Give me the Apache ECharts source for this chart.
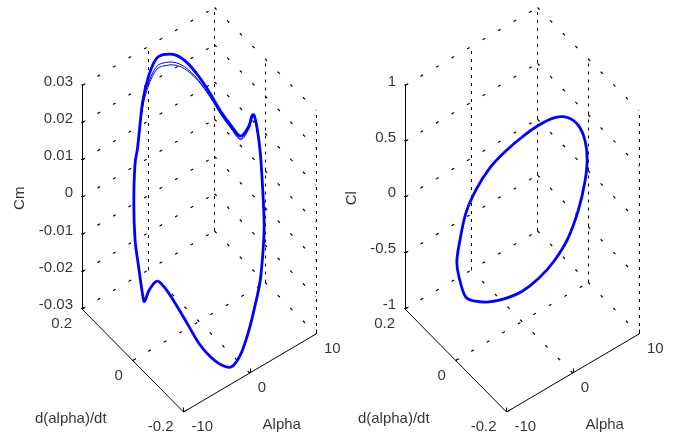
<!DOCTYPE html>
<html>
<head>
<meta charset="utf-8">
<script src="https://cdn.jsdelivr.net/npm/echarts@6/dist/echarts.min.js"></script>
<style>
html, body { margin: 0; padding: 0; background: #fff; }
#chart { width: 676px; height: 438px; }
</style>
</head>
<body>
<div id="chart"></div>
<script>
// Cm loop, one point per phase step (alpha in deg, d(alpha)/dt, Cm)
var alphaCm = [-5.01, -4.08, -3.04, -1.89, -0.70, 0.52, 1.73, 2.88, 3.94, 4.89, 5.68, 6.31, 6.74, 6.97, 6.98, 6.91, 6.78, 6.38, 5.78,
               5.01, 4.08, 3.04, 1.89, 0.70, -0.52, -1.73, -2.88, -3.94, -4.89, -5.68, -6.31, -6.74, -6.97, -6.98, -6.86, -6.78, -6.38, -5.78];
var dadtCm = [0.126, 0.146, 0.162, 0.173, 0.179, 0.180, 0.174, 0.164, 0.149, 0.129, 0.105, 0.078, 0.049, 0.018, -0.014, -0.029, -0.045, -0.074, -0.101,
              -0.126, -0.146, -0.162, -0.173, -0.179, -0.180, -0.174, -0.164, -0.149, -0.129, -0.105, -0.078, -0.049, -0.018, 0.014, 0.035, 0.045, 0.074, 0.101];
var cm = [-0.0022, 0.0061, 0.0090, 0.0189, 0.0245, 0.0277, 0.0279, 0.0271, 0.0250, 0.0218, 0.0181, 0.0143, 0.0121, 0.0112, 0.0161, 0.0201, 0.0203, 0.0144, 0.0054,
          -0.0007, -0.0050, -0.0109, -0.0153, -0.0206, -0.0255, -0.0283, -0.0273, -0.0251, -0.0220, -0.0177, -0.0139, -0.0112, -0.0106, -0.0152, -0.0198, -0.0189, -0.0125, -0.0091];

// other cycles, only where they leave the main one (top of the loop)
var alphaCm2 = [-3.04, -1.89, -0.70, 0.52, 1.73, 2.88, 3.94, 4.89, 5.68, 6.31, 6.74, 6.97, 6.98, 6.91, 6.78, 6.38];
var dadtCm2 = [0.162, 0.173, 0.179, 0.180, 0.174, 0.164, 0.149, 0.129, 0.105, 0.078, 0.049, 0.018, -0.014, -0.029, -0.045, -0.074];
var cm2 = [0.0085, 0.0179, 0.0227, 0.0255, 0.0257, 0.0251, 0.0234, 0.0207, 0.0173, 0.0137, 0.0115, 0.0105, 0.0155, 0.0195, 0.0199, 0.0144];
var cm3 = [0.0085, 0.0174, 0.0220, 0.0247, 0.0249, 0.0244, 0.0229, 0.0204, 0.0171, 0.0135, 0.0113, 0.0103, 0.0153, 0.0194, 0.0198, 0.0144];

// Cl loop
var alphaCl = [-4.97, -3.52, -1.84, -0.02, 1.79, 3.48, 4.93, 6.05, 6.76, 7.00, 6.77, 6.07,
               4.97, 3.52, 1.84, 0.02, -1.79, -3.48, -4.93, -6.05, -6.76, -7.00, -6.77, -6.07];
var dadtCl = [0.127, 0.156, 0.174, 0.180, 0.174, 0.156, 0.128, 0.091, 0.047, 0.001, -0.046, -0.090,
              -0.127, -0.156, -0.174, -0.180, -0.174, -0.156, -0.128, -0.091, -0.047, -0.001, 0.046, 0.090];
var cl = [-0.586, -0.550, -0.373, -0.232, -0.091, 0.042, 0.184, 0.337, 0.480, 0.577, 0.622, 0.613,
          0.568, 0.487, 0.333, 0.155, 0.007, -0.135, -0.264, -0.374, -0.480, -0.572, -0.647, -0.595];

var alphaTicks = [-10, 0, 10];
var dadtTicks = [-0.2, 0, 0.2];
var cmTicks = [-0.03, -0.02, -0.01, 0, 0.01, 0.02, 0.03];
var clTicks = [-1, -0.5, 0, 0.5, 1];
var alphaRange = [-10, 10];
var dadtRange = [-0.2, 0.2];
var cmRange = [-0.03, 0.03];
var clRange = [-1, 1];

// how the box edges look on screen (px)
var ax = [132.5, 78], dx = [-101.5, 103], zLen = 223.5, frontX = 101.5;
var boxW = 234, boxH = 404.5;

var font = { fontFamily: 'Liberation Sans, Arial, sans-serif', fontSize: 15, color: '#000' };

function boxProj(zr) {
    return function (a, d, z) {
        var ua = (a - alphaRange[0]) / (alphaRange[1] - alphaRange[0]);
        var ud = (d - dadtRange[0]) / (dadtRange[1] - dadtRange[0]);
        var uz = (z - zr[0]) / (zr[1] - zr[0]);
        return [frontX + ax[0] * ua + dx[0] * ud, ax[1] * ua + dx[1] * ud + zLen * uz];
    };
}

function seg(p, q) { return { coords: [p, q] }; }

function lab(p, text, off, align, rotate) {
    return {
        value: p,
        label: Object.assign({ show: true, formatter: text, position: off, align: align, verticalAlign: 'middle', rotate: rotate || 0 }, font)
    };
}

// smooth path (catmull-rom as cubic beziers) through the projected points, in pixels
function smoothPath(px, closed) {
    var n = px.length, s = 'M' + px[0][0] + ' ' + px[0][1];
    function at(i) {
        if (closed) return px[(i + n) % n];
        return px[Math.max(0, Math.min(n - 1, i))];
    }
    var last = closed ? n : n - 1;
    for (var i = 0; i < last; i++) {
        var p0 = at(i - 1), p1 = at(i), p2 = at(i + 1), p3 = at(i + 2);
        var c1 = [p1[0] + (p2[0] - p0[0]) / 6, p1[1] + (p2[1] - p0[1]) / 6];
        var c2 = [p2[0] - (p3[0] - p1[0]) / 6, p2[1] - (p3[1] - p1[1]) / 6];
        s += ' C' + c1[0] + ' ' + c1[1] + ' ' + c2[0] + ' ' + c2[1] + ' ' + p2[0] + ' ' + p2[1];
    }
    return s;
}

function panel(k, zr, zTicks, zName, zNameOff, curves) {
    var P = boxProj(zr);
    var a0 = alphaRange[0], a1 = alphaRange[1], d0 = dadtRange[0], d1 = dadtRange[1], z0 = zr[0], z1 = zr[1];
    var vert = [], slant = [], solid = [], labels = [];

    // dotted grid on the back walls and the floor
    alphaTicks.forEach(function (a) { if (a > a0) vert.push(seg(P(a, d1, z0), P(a, d1, z1))); });
    dadtTicks.forEach(function (d) { if (d < d1) vert.push(seg(P(a1, d, z0), P(a1, d, z1))); });
    zTicks.forEach(function (z) {
        slant.push(seg(P(a0, d1, z), P(a1, d1, z)));
        slant.push(seg(P(a1, d1, z), P(a1, d0, z)));
    });
    alphaTicks.forEach(function (a) { if (a > a0 && a < a1) slant.push(seg(P(a, d0, z0), P(a, d1, z0))); });
    dadtTicks.forEach(function (d) { if (d > d0 && d < d1) slant.push(seg(P(a0, d, z0), P(a1, d, z0))); });

    // axes + ticks
    solid.push(seg(P(a0, d1, z0), P(a0, d1, z1)));
    solid.push(seg(P(a0, d0, z0), P(a1, d0, z0)));
    solid.push(seg(P(a0, d0, z0), P(a0, d1, z0)));
    var ta = 0.025 * (a1 - a0), td = 0.025 * (d1 - d0), tz = 0.02 * (z1 - z0);
    zTicks.forEach(function (z) {
        solid.push(seg(P(a0, d1, z), P(a0 + ta, d1, z)));
        solid.push(seg(P(a0, d1, z), P(a0, d1 + td, z)));
        labels.push(lab(P(a0, d1, z), String(z), [-9, -4], 'right'));
    });
    alphaTicks.forEach(function (a) {
        solid.push(seg(P(a, d0, z0), P(a, d0, z0 + tz)));
        labels.push(lab(P(a, d0, z0), String(a), [8, 15], 'left'));
    });
    dadtTicks.forEach(function (d) {
        solid.push(seg(P(a0, d, z0), P(a0 + ta, d, z0)));
        labels.push(lab(P(a0, d, z0), String(d), [-10, 15], 'right'));
    });
    labels.push(lab(P(a0, d1, (z0 + z1) / 2), zName, [zNameOff, 1], 'center', 90));
    labels.push(lab(P(a0, (d0 + d1) / 2, z0), 'd(alpha)/dt', [-62, 58], 'center'));
    labels.push(lab(P((a0 + a1) / 2, d0, z0), 'Alpha', [32, 52], 'center'));

    var base = { coordinateSystem: 'cartesian2d', xAxisIndex: k, yAxisIndex: k, silent: true };
    var out = [
        Object.assign({ type: 'lines', data: vert, z: 1, lineStyle: { color: '#000', width: 1, opacity: 1, type: [3, 5] } }, base),
        Object.assign({ type: 'lines', data: slant, z: 1, lineStyle: { color: '#000', width: 1.2, opacity: 1, type: [3, 15] } }, base),
        Object.assign({ type: 'lines', data: solid, z: 2, lineStyle: { color: '#000', width: 1, opacity: 1 } }, base),
        Object.assign({ type: 'scatter', data: labels, symbolSize: 0, z: 4 }, base)
    ];
    // each curve: projected points as data, drawn as one smooth path in pixel space
    curves.forEach(function (c) {
        var pts = c.a.map(function (a, i) { return P(a, c.d[i], c.z[i]); });
        out.push(Object.assign({
            type: 'custom', z: 3, data: pts,
            renderItem: function (params, api) {
                if (params.dataIndex !== 0) return;
                var px = pts.map(function (p) { return api.coord(p); });
                return {
                    type: 'path',
                    shape: { pathData: smoothPath(px, c.closed) },
                    style: { fill: null, stroke: '#0000ff', lineWidth: c.width, lineJoin: 'round' }
                };
            }
        }, base));
    });
    return out;
}

var chart = echarts.init(document.getElementById('chart'));
var series = [].concat(
    panel(0, cmRange, cmTicks, 'Cm', -62, [
        { a: alphaCm, d: dadtCm, z: cm, width: 2.8, closed: true },
        { a: alphaCm2, d: dadtCm2, z: cm2, width: 1, closed: false },
        { a: alphaCm2, d: dadtCm2, z: cm3, width: 1, closed: false }
    ]),
    panel(1, clRange, clTicks, 'Cl', -53, [
        { a: alphaCl, d: dadtCl, z: cl, width: 2.8, closed: true }
    ])
);

chart.setOption({
    animation: false,
    backgroundColor: '#fff',
    grid: [
        { left: 82, top: 7.5, width: boxW, height: boxH },
        { left: 405, top: 7.5, width: boxW, height: boxH }
    ],
    xAxis: [
        { type: 'value', gridIndex: 0, min: 0, max: boxW, show: false },
        { type: 'value', gridIndex: 1, min: 0, max: boxW, show: false }
    ],
    yAxis: [
        { type: 'value', gridIndex: 0, min: 0, max: boxH, show: false },
        { type: 'value', gridIndex: 1, min: 0, max: boxH, show: false }
    ],
    series: series
});
</script>
</body>
</html>
